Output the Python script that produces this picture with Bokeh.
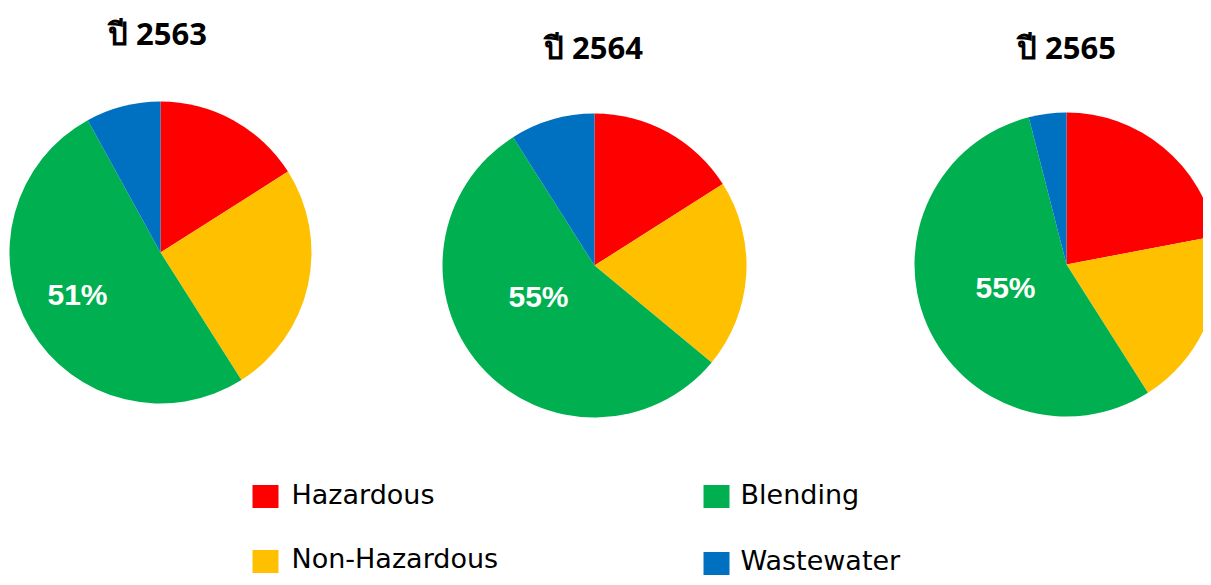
import numpy as np
from bokeh.plotting import figure
from bokeh.models import Range1d, ColumnDataSource
from bokeh.core.properties import value
from bokeh.embed import file_html
from bokeh.resources import INLINE

# ---- data ----
years = ["ปี 2563", "ปี 2564", "ปี 2565"]
categories = ["Hazardous", "Non-Hazardous", "Blending", "Wastewater"]
hazardous = [16, 16, 22]
non_hazardous = [25, 20, 19]
blending = [51, 55, 55]
wastewater = [8, 9, 4]
label_texts = ["51%", "55%", "55%"]
colors = ["#FF0000", "#FFC000", "#00B050", "#0070C0"]

# ---- layout (pixel-like coordinates, y up) ----
H = 585
FW, FH = 1203, 577
p = figure(width=FW, height=FH, output_backend="svg", toolbar_location=None,
           x_range=Range1d(0, FW), y_range=Range1d(H - FH, H),
           min_border=0)
p.axis.visible = False
p.grid.visible = False
p.outline_line_color = None
p.background_fill_color = "white"

centers = [(160, 252), (594, 265), (1066, 264)]
radii = [151, 152, 152]
title_pos = [(157, 32), (593, 46), (1066, 46)]
label_offsets = [(-83, 42), (-56, 31), (-61, 23)]

series = [hazardous, non_hazardous, blending, wastewater]
for i, (cx, cy) in enumerate(centers):
    vals = np.array([s[i] for s in series], dtype=float)
    frac = vals / vals.sum()
    cum = np.concatenate([[0], np.cumsum(frac)])
    start = np.pi / 2 - 2 * np.pi * cum[:-1]
    end = np.pi / 2 - 2 * np.pi * cum[1:]
    src = ColumnDataSource(dict(
        x=[cx] * 4, y=[H - cy] * 4, start=start, end=end, color=colors,
        cat=categories))
    p.wedge(x="x", y="y", radius=radii[i], start_angle="start", end_angle="end",
            direction="clock", fill_color="color", line_color=None, source=src)
    ox, oy = label_offsets[i]
    p.text(x=[cx + ox], y=[H - (cy + oy)], text=[label_texts[i]],
           text_color="white", text_font=value("Liberation Sans"),
           text_font_style="bold", text_font_size="30px",
           text_align="center", text_baseline="middle")
    tx, ty = title_pos[i]
    p.text(x=[tx], y=[H - ty], text=[years[i]], text_color="black",
           text_font=value("Open Sans"), text_font_style="bold",
           text_font_size="31px", text_align="center",
           text_baseline="middle")

# legend
leg_sq = [(265, 496), (265, 561), (716, 496), (716, 563)]
leg_txt = [(291, 494), (291, 558), (740, 494), (740, 560)]
for k in range(4):
    sx, sy = leg_sq[k]
    p.rect(x=[sx], y=[H - sy], width=26, height=23, fill_color=colors[k],
           line_color=None)
    tx, ty = leg_txt[k]
    p.text(x=[tx], y=[H - ty], text=[categories[k]], text_color="black",
           text_font=value("DejaVu Sans"), text_font_size="27px",
           text_align="left", text_baseline="middle")

open("out.html", "w").write(file_html(p, INLINE))
